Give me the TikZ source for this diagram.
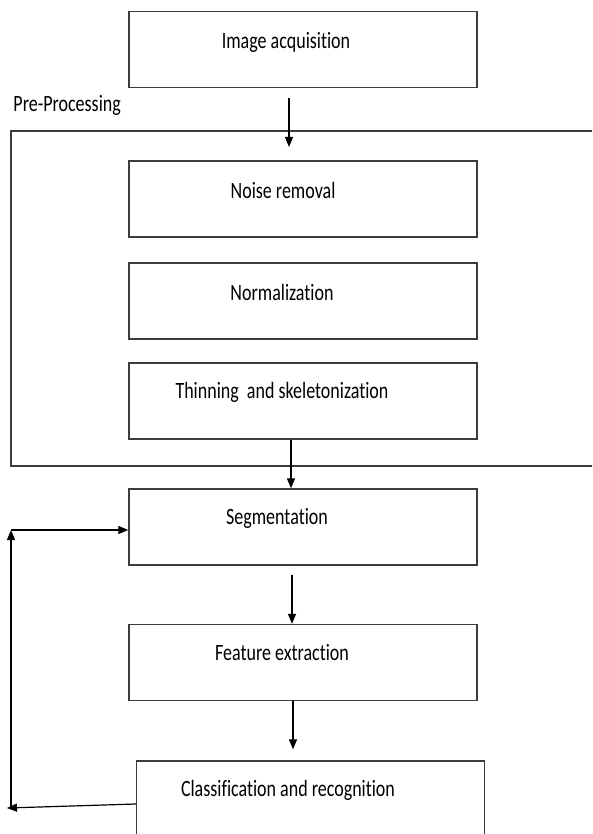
\documentclass[tikz,border=0pt]{standalone}
\usepackage{fontspec}
\setmainfont[Ligatures=NoCommon]{Carlito}
\usetikzlibrary{arrows.meta,calc}

\tikzset{every picture/.style={line width=0.75pt}}
\tikzset{
  stage/.style={draw={rgb, 255:red, 60; green, 60; blue, 60}, line width=1pt, minimum width=261pt, minimum height=57pt, inner sep=0pt},
  txt/.style={inner sep=0.75pt, font=\fontsize{13.5}{16}\selectfont},
  flow/.style={-{Triangle[length=7.5pt,width=6pt]}, line width=0.9pt}
}
\newcommand{\tallText}[1]{\scalebox{1}[1.3]{#1}}

\begin{document}
\begin{tikzpicture}[x=0.75pt,y=0.75pt,yscale=-1,xscale=1]
\useasboundingbox (0,0) rectangle (592,834);
\clip (0,0) rectangle (592,834);

%Shape: Rectangle [pre-processing frame, open on the right]
\node[stage, minimum width=441.75pt, minimum height=251.25pt] (pre) at (305.5,298.5) {};
%Shape: Rectangle
\node[stage] (acq) at (303,49.5) {};
%Shape: Rectangle
\node[stage] (noise) at (303,199) {};
%Shape: Rectangle
\node[stage] (norm) at (303,301) {};
%Shape: Rectangle
\node[stage] (thin) at (303,401) {};
%Shape: Rectangle
\node[stage] (seg) at (303,527) {};
%Shape: Rectangle
\node[stage] (feat) at (303,662.5) {};
%Shape: Rectangle [runs off the bottom]
\node[stage] (cls) at (310.5,799) {};

%Straight Lines
\coordinate (a1) at (289,98);
\coordinate (a2) at (289,147);
\draw[flow] (a1) -- (a2);
%Straight Lines
\draw[flow] ($(thin.south)+(-12,0)$) -- ($(seg.north)+(-12,0)$);
%Straight Lines
\draw[flow] ($(seg.south)+(-11,9)$) -- ($(feat.north)+(-11,0)$);
%Straight Lines
\draw[flow] ($(feat.south)+(-10,0)$) -- ($(cls.north)+(-17.5,-11)$);

%Straight Lines [feedback]
\coordinate (fb1) at (7,808);
\coordinate (fb0) at (11,807);
\coordinate (fb2) at (11,530);
\draw[flow] ($(cls.west)+(0,5)$) -- (fb1);
\draw[flow] (fb0) -- (fb2);
\draw[flow] (fb2) -- ($(seg.west)+(0,3)$);

% Text Node
\node[txt] (tacq) at (286,42) {\tallText{Image acquisition}};
% Text Node
\node[txt, anchor=west] (tpre) at (12,105) {\tallText{Pre-Processing}};
% Text Node
\node[txt] (tnoise) at (283,190) {\tallText{Noise removal}};
% Text Node
\node[txt] (tnorm) at (282,292) {\tallText{Normalization}};
% Text Node
\node[txt] (tthin) at (282,392) {\tallText{Thinning\ \ and skeletonization}};
% Text Node
\node[txt] (tseg) at (277,518) {\tallText{Segmentation}};
% Text Node
\node[txt] (tfeat) at (282,653) {\tallText{Feature extraction}};
% Text Node
\node[txt] (tcls) at (288,790) {\tallText{Classification and recognition}};

\end{tikzpicture}
\end{document}
